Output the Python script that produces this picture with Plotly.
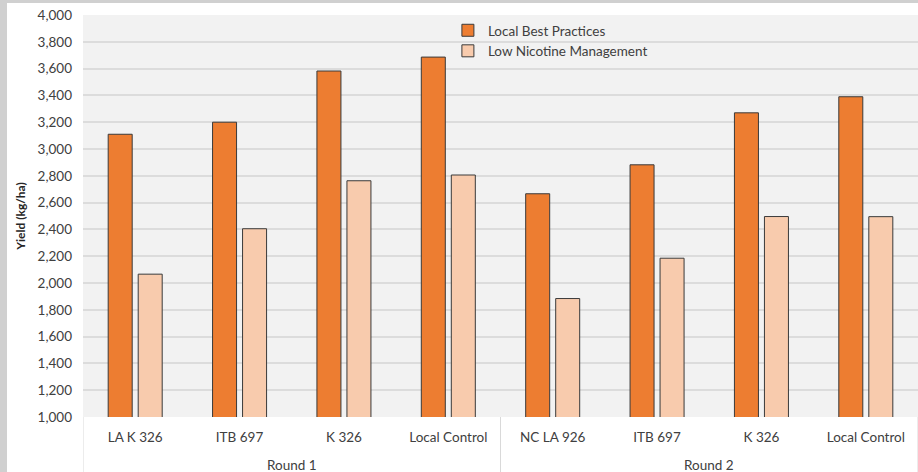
import plotly.graph_objects as go

rounds = ["Round 1"] * 4 + ["Round 2"] * 4
varieties = ["LA K 326", "ITB 697", "K 326", "Local Control",
             "NC LA 926", "ITB 697", "K 326", "Local Control"]
best_practices = [3110, 3200, 3582, 3686, 2666, 2882, 3270, 3390]
low_nicotine = [2066, 2405, 2763, 2806, 1884, 2185, 2496, 2495]
round_names = ["Round 1", "Round 2"]

FONT = "Lato, 'Open Sans', sans-serif"
TXT = "#404040"

# unique category keys (a variety can appear in both rounds)
keys = [f"{r} | {v}" for r, v in zip(rounds, varieties)]

fig = go.Figure()
fig.add_trace(go.Bar(x=keys, y=best_practices, name="Local Best Practices",
                     marker=dict(color="#ED7D31", line=dict(color="#3a3a3a", width=1))))
fig.add_trace(go.Bar(x=keys, y=low_nicotine, name="Low Nicotine Management",
                     marker=dict(color="#F8CBAD", line=dict(color="#3a3a3a", width=1))))

# outer (round) labels and dividers
annotations = []
shapes = []
bounds = [-0.5]
for name in round_names:
    idx = [i for i, r in enumerate(rounds) if r == name]
    centre = (idx[0] + idx[-1]) / 2
    annotations.append(dict(x=centre, xref="x", y=-(466 - 417.5) / 402, yref="paper",
                            text=name, showarrow=False, yanchor="middle",
                            font=dict(size=13.5, color=TXT)))
    bounds.append(idx[-1] + 0.5)
for b in bounds:
    shapes.append(dict(type="line", xref="x", yref="paper", x0=b, x1=b, y0=0, y1=-0.2,
                       line=dict(color="#D9D9D9", width=1)))

shapes += [
    dict(type="rect", xref="paper", yref="paper", x0=-83/835, x1=-76/835, y0=-0.2, y1=1.2,
         fillcolor="#D0D0D0", line=dict(width=0), layer="below"),
    dict(type="rect", xref="paper", yref="paper", x0=-0.2, x1=1.2, y0=1 + 12/402, y1=1.2,
         fillcolor="#D0D0D0", line=dict(width=0), layer="below"),
]

fig.update_layout(
    width=918, height=472,
    margin=dict(l=83, r=0, t=15, b=55, autoexpand=False),
    paper_bgcolor="white", plot_bgcolor="#F2F2F2",
    barmode="group", bargap=0.425, bargroupgap=0.2,
    font=dict(family=FONT, size=13.5, color=TXT),
    legend=dict(x=0.437, y=1.0, xanchor="left", yanchor="top",
                bgcolor="rgba(0,0,0,0)", font=dict(size=13.5, color=TXT),
                itemwidth=30, tracegroupgap=0),
    shapes=shapes,
    annotations=annotations,
)
fig.update_yaxes(range=[1000, 4000], dtick=200, tickformat=",", showgrid=True,
                 gridcolor="#DCDCDC", gridwidth=1.5, zeroline=False, showline=False,
                 ticks="", ticklabelstandoff=10, automargin=False,
                 tickfont=dict(size=13.5, color=TXT),
                 title=dict(text="<b>Yield (kg/ha)</b>", font=dict(size=12, color="#262626"), standoff=9))
fig.update_xaxes(type="category", showgrid=False, showline=False, ticks="",
                 tickmode="array", tickvals=keys, ticktext=varieties,
                 ticklabelstandoff=10, range=[-0.5, len(keys) - 0.5],
                 automargin=False, tickfont=dict(size=13.5, color=TXT))

fig.write_html("out.html")
